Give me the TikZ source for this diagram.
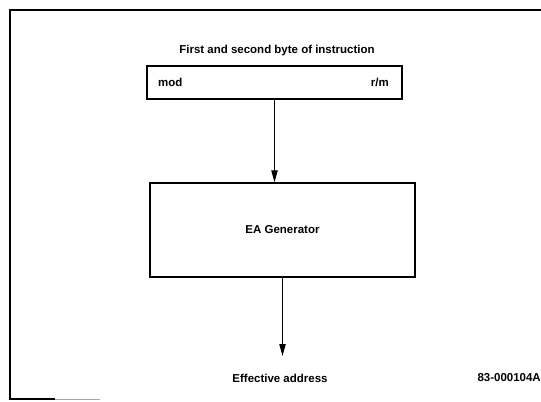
\documentclass[tikz,border=0pt]{standalone}
\usepackage{fontspec}
\setmainfont{Liberation Sans}
\usetikzlibrary{arrows.meta,positioning}
\tikzset{
  blockbox/.style={draw, line width=1.1pt, inner sep=0pt},
  lbl/.style={font=\bfseries\fontsize{9.8}{11}\selectfont, inner sep=0pt},
  flow/.style={-{Triangle[length=3.6mm,width=1.9mm]}, line width=0.9pt}
}
\begin{document}
\begin{tikzpicture}[x=0.03cm,y=-0.03cm]
        \useasboundingbox (0,0) rectangle (541,402);
        % open frame
        \draw[line width=1.1pt] (541,10) -- (10,10) -- (10,399) -- (55,399);
        \draw[line width=0.5pt, black!35] (55,399) -- (100,399);
        % blocks
        \node[lbl] (title) at (277,51) {First and second byte of instruction};
        \node[blockbox, minimum width=7.65cm, minimum height=0.99cm] (byte) at (274.5,82.5) {};
        \node[lbl, anchor=west] (mod) at (158,82) {mod};
        \node[lbl, anchor=east] (rm) at (389,82) {r/m};
        \node[blockbox, minimum width=7.95cm, minimum height=2.82cm] (gen) at (282.5,230) {};
        \node[lbl] (genlbl) at (gen.center) {EA Generator};
        % connectors
        \draw[flow] (byte.south) -- (byte.south |- gen.north);
        \node[lbl] (ea) at (280,378) {Effective address};
        \coordinate (tip) at (281,356);
        \draw[flow] (gen.south) -- (gen.south |- tip);
        \node[lbl, anchor=east] (fig) at (541,378) {83-000104A};
\end{tikzpicture}
\end{document}
